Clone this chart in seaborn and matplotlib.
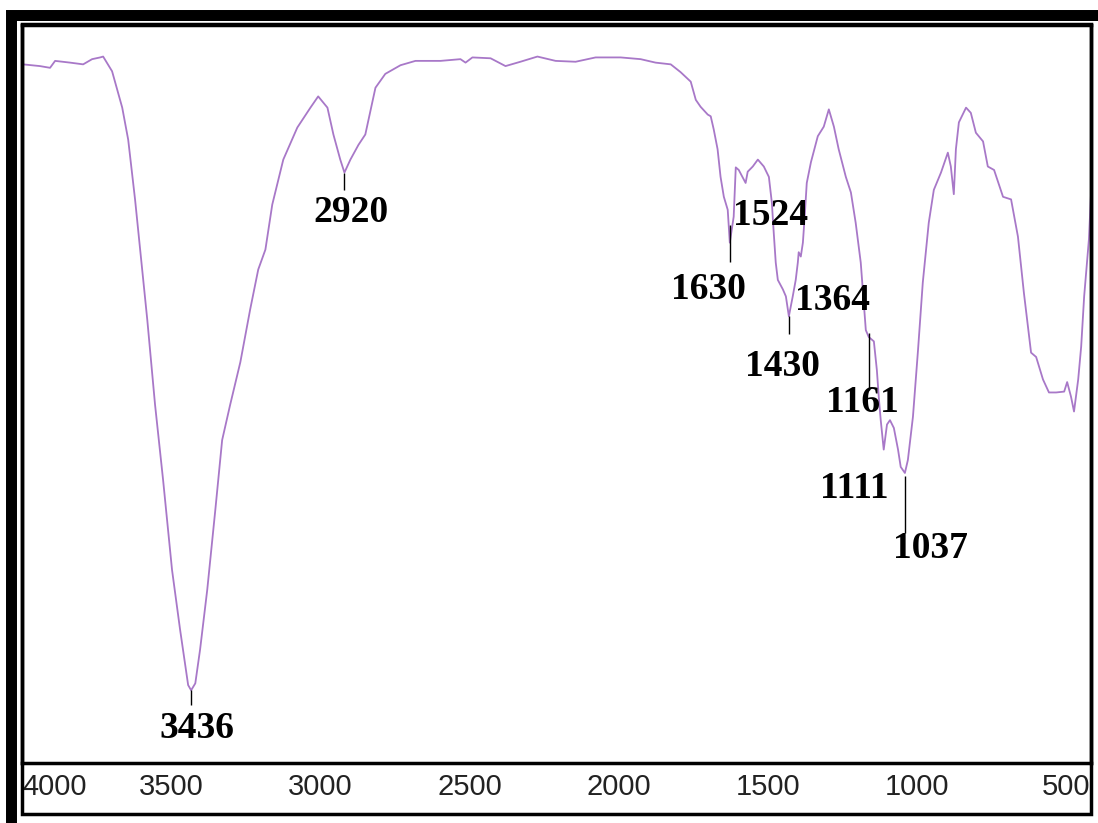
import numpy as np
import pandas as pd
import seaborn as sns
import matplotlib
matplotlib.use("Agg")
import matplotlib.pyplot as plt
from matplotlib.patches import Rectangle

## FTIR spectrum, transmittance vs wavenumber (cm-1)

wavenumber = [3997, 3940, 3906, 3889, 3839, 3795, 3765, 3738, 3728, 3698,
              3664, 3644, 3621, 3604, 3580, 3554, 3527, 3497, 3470, 3443,
              3433, 3419, 3403, 3379, 3352, 3329, 3302, 3268, 3235, 3208,
              3184, 3161, 3124, 3077, 3033, 3007, 2976, 2956, 2933, 2919,
              2899, 2872, 2849, 2832, 2815, 2782, 2731, 2681, 2597, 2530,
              2513, 2490, 2429, 2379, 2329, 2272, 2211, 2144, 2077, 1993,
              1926, 1876, 1825, 1792, 1758, 1741, 1725, 1701, 1691, 1681,
              1668, 1658, 1647, 1634, 1627, 1614, 1607, 1597, 1580, 1574,
              1567, 1550, 1533, 1513, 1496, 1486, 1480, 1473, 1466, 1449,
              1439, 1429, 1416, 1406, 1399, 1396, 1389, 1382, 1376, 1369,
              1355, 1332, 1312, 1295, 1278, 1262, 1238, 1221, 1205, 1188,
              1178, 1171, 1161, 1144, 1134, 1127, 1121, 1111, 1100, 1090,
              1077, 1063, 1054, 1040, 1030, 1013, 996, 980, 960, 943,
              919, 896, 886, 876, 869, 859, 835, 819, 802, 778,
              762, 741, 711, 684, 661, 641, 617, 600, 577, 557,
              533, 506, 496, 483, 473, 459, 449, 439, 423, 413]

transmittance = [79.9, 79.7, 79.5, 80.3, 80.1, 79.9, 80.5, 80.7, 80.8, 79.1,
                 74.9, 71.2, 64.3, 58.5, 50.4, 40.6, 31.9, 21.5, 14.6, 8.2,
                 7.6, 8.4, 12.3, 19.2, 28.4, 36.5, 40.6, 45.5, 51.6, 56.2,
                 58.5, 63.7, 68.9, 72.6, 74.9, 76.2, 74.9, 71.8, 68.9, 67.4,
                 68.9, 70.6, 71.8, 74.5, 77.2, 78.8, 79.8, 80.3, 80.3, 80.5,
                 80.1, 80.7, 80.6, 79.7, 80.2, 80.8, 80.3, 80.2, 80.7, 80.7,
                 80.5, 80.1, 79.9, 79.0, 77.9, 75.8, 75.0, 74.1, 73.9, 72.4,
                 70.1, 66.9, 64.6, 63.1, 59.3, 62.3, 68.0, 67.7, 66.6, 66.2,
                 67.5, 68.1, 68.9, 68.1, 66.9, 63.9, 60.6, 57.0, 55.0, 53.9,
                 53.1, 50.8, 53.1, 55.0, 57.0, 58.2, 57.7, 59.3, 62.3, 66.2,
                 68.6, 71.6, 72.7, 74.7, 72.7, 70.1, 66.9, 65.1, 61.6, 57.0,
                 52.4, 49.2, 48.4, 47.9, 44.6, 41.2, 38.8, 35.4, 38.3, 38.8,
                 37.9, 35.4, 33.4, 32.7, 34.2, 39.2, 46.9, 54.7, 61.6, 65.4,
                 67.4, 69.7, 68.1, 64.9, 70.1, 73.2, 74.9, 74.3, 72.0, 71.0,
                 68.1, 67.7, 64.6, 64.3, 60.0, 53.5, 46.6, 46.1, 43.5, 42.0,
                 42.0, 42.1, 43.2, 41.5, 39.8, 43.5, 47.3, 53.1, 59.7, 67.2]

# peak labels
peak_labels = ["3436", "2920", "1524", "1630", "1364", "1430", "1161", "1111", "1037"]
label_wn = [3413, 2896, 1490, 1698, 1282, 1449, 1181, 1208, 953]
label_t = [3.2, 62.8, 62.4, 53.9, 52.6, 45.0, 40.8, 30.9, 24.0]

# marker lines under the peaks
mark_wn = [3433, 2919, 1627, 1429, 1161, 1040]
mark_top = [7.6, 67.4, 61.4, 50.8, 48.9, 32.3]
mark_bottom = [5.9, 65.4, 57.1, 48.7, 42.3, 25.8]

x_ticks = [4000, 3500, 3000, 2500, 2000, 1500, 1000, 500]

df = pd.DataFrame({"wavenumber": wavenumber, "T": transmittance})

sns.set_style("white")
plt.rcParams["font.family"] = ["Liberation Serif", "DejaVu Serif"]

fig = plt.figure(figsize=(10.98, 8.23), dpi=100)
ax = fig.add_axes([0.02004, 0.0729, 0.9736, 0.8973])

sns.lineplot(data=df, x="wavenumber", y="T", sort=False, estimator=None,
             color="#a878c8", linewidth=1.3, ax=ax)

ax.vlines(mark_wn, mark_bottom, mark_top, colors="black", linewidth=1.0)

for lab, xw, yt in zip(peak_labels, label_wn, label_t):
    ax.text(xw, yt, lab, ha="center", va="center", fontsize=27,
            fontweight="bold", color="black")

ax.set_xlim(4000, 416)
ax.set_ylim(-0.8, 84.5)
ax.set_xlabel("")
ax.set_ylabel("")

ax.set_xticks(x_ticks)
ax.set_xticklabels(x_ticks, family=["Liberation Sans Narrow", "Liberation Sans", "DejaVu Sans"],
                   fontsize=21, color="#222222")
ax.tick_params(axis="x", length=0, pad=7)
ax.get_xticklabels()[0].set_ha("left")

ax.set_yticks([20, 40])
ax.set_yticklabels([])
ax.tick_params(axis="y", direction="in", length=4, width=1.2, color="#444444")

for side in ax.spines.values():
    side.set_linewidth(2.5)
    side.set_color("black")

# picture frames
fig.add_artist(Rectangle((0.01047, -0.00365), 1.0005, 0.986, transform=fig.transFigure,
                         fill=False, edgecolor="black", linewidth=7.9))
fig.add_artist(Rectangle((0.02004, 0.01154), 0.9736, 0.9587, transform=fig.transFigure,
                         fill=False, edgecolor="black", linewidth=2.5))

fig.savefig("out.png", dpi=100)
